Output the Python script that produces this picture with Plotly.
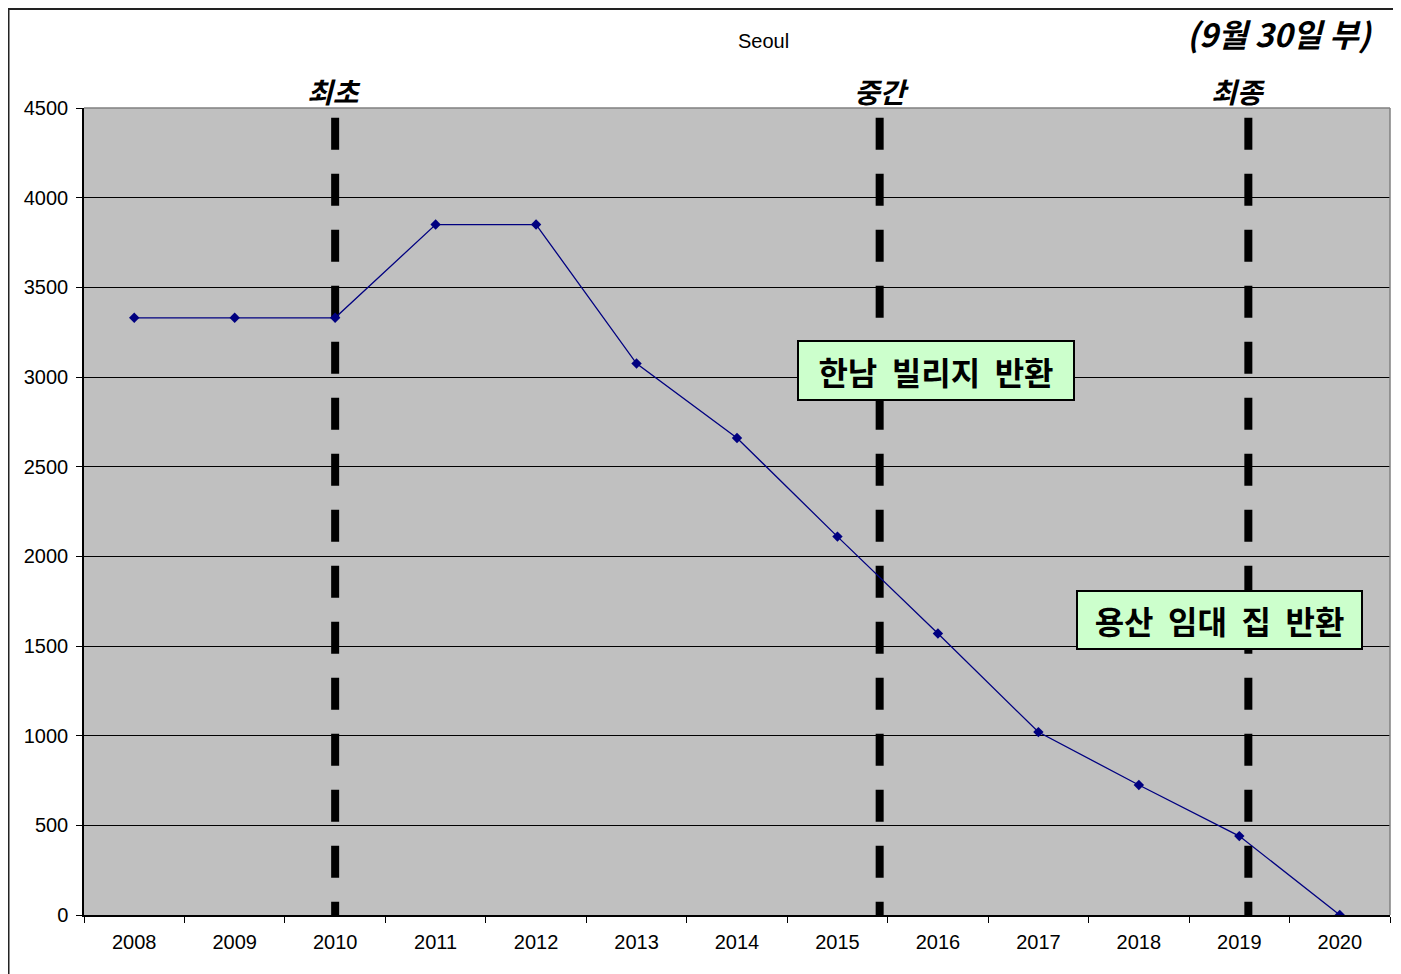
import plotly.graph_objects as go

# Data
years = ["2008", "2009", "2010", "2011", "2012", "2013", "2014",
         "2015", "2016", "2017", "2018", "2019", "2020"]
troops = [3330, 3330, 3330, 3850, 3850, 3075, 2660,
          2110, 1570, 1020, 725, 440, 0]

# Phase markers (category index positions) and their labels
phase_positions = [2.0, 7.42, 11.09]
phase_labels = ["최초", "중간", "최종"]
phase_label_positions = [1.99, 7.44, 10.99]

y_ticks = list(range(0, 4501, 500))

FONT_LATIN = "Liberation Sans, Arial, sans-serif"
FONT_KR = "Noto Sans CJK KR, sans-serif"
COLOR_LINE = "#000080"
COLOR_BOX = "#ccffcc"

fig = go.Figure()
fig.add_trace(
    go.Scatter(
        x=years,
        y=troops,
        mode="lines+markers",
        line=dict(color=COLOR_LINE, width=1.3),
        marker=dict(symbol="diamond", size=8, color=COLOR_LINE),
        showlegend=False,
    )
)

# Thick dashed phase lines
for pos in phase_positions:
    fig.add_shape(
        type="line", xref="x", yref="y",
        x0=pos, x1=pos, y0=4445, y1=-12,
        line=dict(color="black", width=8, dash="32px,24px"),
        layer="between",
    )

for pos, label in zip(phase_label_positions, phase_labels):
    fig.add_annotation(
        x=pos, y=1.021, xref="x", yref="paper",
        xanchor="center", yanchor="middle",
        text=f"<b><i>{label}</i></b>", showarrow=False,
        font=dict(family=FONT_KR, size=28, color="black"),
    )

# Gray plot border on top and right
fig.add_shape(type="line", xref="paper", yref="paper", x0=0, x1=1, y0=1, y1=1,
              line=dict(color="#808080", width=1.5))
fig.add_shape(type="line", xref="paper", yref="paper", x0=1, x1=1, y0=0, y1=1,
              line=dict(color="#808080", width=1.5))

# Outer chart border
fig.add_shape(type="rect", xref="paper", yref="paper",
              x0=-0.0578, x1=1.03, y0=-0.1, y1=1.1227,
              line=dict(color="#222222", width=2))

# Callout boxes
fig.add_annotation(
    x=7.98, y=3034, xref="x", yref="y",
    text="<b>한남&nbsp; 빌리지&nbsp; 반환</b>", showarrow=False,
    font=dict(family=FONT_KR, size=32, color="black"),
    bgcolor=COLOR_BOX, bordercolor="black", borderwidth=2, borderpad=0,
    width=274, height=57,
)
fig.add_annotation(
    x=10.80, y=1645, xref="x", yref="y",
    text="<b>용산&nbsp; 임대&nbsp; 집&nbsp; 반환</b>", showarrow=False,
    font=dict(family=FONT_KR, size=32, color="black"),
    bgcolor=COLOR_BOX, bordercolor="black", borderwidth=2, borderpad=0,
    width=283, height=56,
)

fig.add_annotation(
    x=0.52, y=1.083, xref="paper", yref="paper",
    xanchor="center", yanchor="middle",
    text="Seoul", showarrow=False,
    font=dict(family=FONT_LATIN, size=20, color="black"),
)
fig.add_annotation(
    x=0.916, y=1.1235, xref="paper", yref="paper",
    xanchor="center", yanchor="top",
    text="<b><i>(9월 30일 부)</i></b>", showarrow=False,
    font=dict(family=FONT_KR, size=32, color="black"),
)

# The page body adds an 8px offset, so the canvas is trimmed by that amount
fig.update_layout(
    width=1393,
    height=966,
    margin=dict(l=76, r=11, t=100, b=59),
    paper_bgcolor="white",
    plot_bgcolor="#c0c0c0",
    font=dict(family=FONT_LATIN, size=20, color="black"),
)
fig.update_xaxes(
    type="category",
    range=[-0.5, 12.5],
    tickson="boundaries",
    ticks="outside", ticklen=6, tickcolor="black",
    ticklabelstandoff=8,
    showline=True, linecolor="black", linewidth=1.5,
    showgrid=False, zeroline=False,
    tickfont=dict(size=20),
)
fig.update_yaxes(
    range=[0, 4500],
    tickvals=y_ticks,
    ticks="outside", ticklen=6, tickcolor="black",
    ticklabelstandoff=4,
    showline=True, linecolor="black", linewidth=1.5,
    showgrid=True, gridcolor="black", gridwidth=1,
    zeroline=False,
    tickfont=dict(size=20),
)

fig.write_html("out.html")
